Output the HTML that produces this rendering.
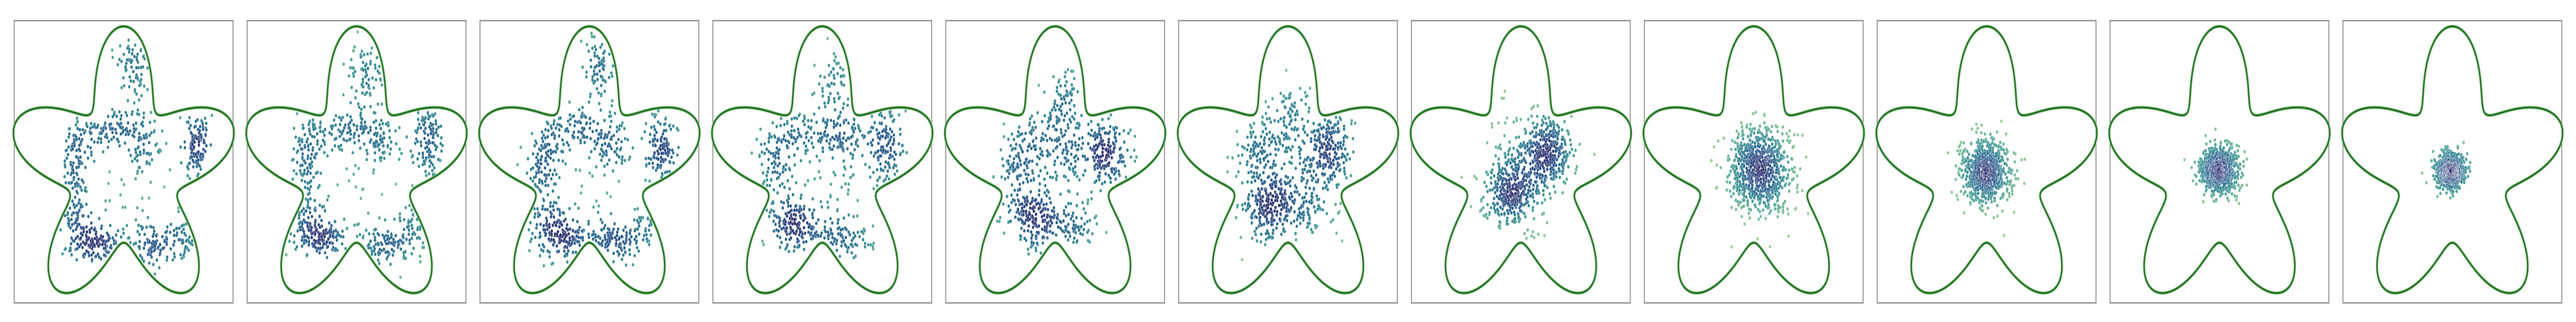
<!DOCTYPE html>
<html><head><meta charset="utf-8">
<style>
html,body{margin:0;padding:0;background:#fff;width:100%;height:100%;overflow:hidden;}
svg{display:block;width:100vw;height:100vh;}
</style></head>
<body>
<svg id="chart" viewBox="0 0 6875 625" preserveAspectRatio="none" xmlns="http://www.w3.org/2000/svg"></svg>
<script>
// ---- data (data units: star centre at 0,0; y up) ----
const panelIds = ['step-1','step-2','step-3','step-4','step-5','step-6','step-7','step-8','step-9','step-10','step-11'];
const clusterX = [
 [0.12,0.85,-0.30,0.38,-0.58,-0.35,-0.10,0.22,-0.55,0.70,0.10,0.15],
 [0.10,0.83,-0.38,0.32,-0.60,-0.35,-0.05,0.25,-0.55,0.65,0.05,0.12],
 [0.13,0.83,-0.28,0.31,-0.56,-0.30,-0.05,0.25,-0.50,0.65,0.05,0.12],
 [0.15,0.74,-0.30,0.25,-0.55,-0.20,0.25,0.00],
 [0.10,0.60,-0.26,0.15,-0.45,-0.10,0.20],
 [0.45,-0.22,0.05,-0.35,0.20,0.00],
 [0.32,-0.10,0.05],
 [0.08],
 [0.00],
 [0.00],
 [-0.02]
];
const clusterY = [
 [0.98,0.30,-0.68,-0.68,0.00,0.35,0.42,0.28,-0.45,-0.55,-0.20,0.65],
 [0.95,0.30,-0.62,-0.68,0.05,0.35,0.42,0.28,-0.40,-0.50,-0.20,0.65],
 [0.98,0.24,-0.61,-0.66,0.06,0.35,0.40,0.25,-0.40,-0.45,-0.20,0.60],
 [0.85,0.25,-0.50,-0.60,0.05,0.35,0.30,-0.10],
 [0.70,0.20,-0.42,-0.50,0.05,0.35,0.10],
 [0.20,-0.33,0.55,0.20,-0.30,0.00],
 [0.20,-0.20,0.02],
 [0.02],
 [0.01],
 [0.01],
 [0.01]
];
const clusterSX = [
 [0.10,0.08,0.18,0.20,0.08,0.15,0.15,0.12,0.10,0.08,0.20,0.08],
 [0.10,0.08,0.18,0.20,0.08,0.15,0.15,0.12,0.10,0.08,0.20,0.08],
 [0.10,0.09,0.18,0.20,0.09,0.15,0.15,0.14,0.10,0.08,0.20,0.08],
 [0.12,0.10,0.15,0.18,0.10,0.20,0.15,0.25],
 [0.10,0.13,0.15,0.18,0.12,0.20,0.20],
 [0.15,0.15,0.15,0.15,0.20,0.30],
 [0.14,0.15,0.25],
 [0.18],
 [0.14],
 [0.11],
 [0.08]
];
const clusterSY = [
 [0.12,0.20,0.08,0.09,0.20,0.10,0.08,0.12,0.12,0.10,0.20,0.15],
 [0.12,0.20,0.08,0.09,0.20,0.10,0.08,0.12,0.12,0.10,0.20,0.15],
 [0.12,0.20,0.09,0.09,0.20,0.10,0.08,0.12,0.12,0.10,0.20,0.15],
 [0.15,0.20,0.12,0.09,0.20,0.12,0.15,0.20],
 [0.15,0.20,0.15,0.10,0.20,0.12,0.15],
 [0.18,0.15,0.15,0.15,0.15,0.30],
 [0.15,0.15,0.28],
 [0.20],
 [0.15],
 [0.11],
 [0.08]
];
const clusterN = [
 [60,120,130,110,90,60,50,70,60,30,25,15],
 [60,120,130,110,90,60,50,70,60,30,25,15],
 [60,120,130,110,90,60,50,70,60,30,25,15],
 [50,130,150,100,90,80,90,40],
 [60,170,170,90,100,100,80],
 [220,220,80,100,100,80],
 [300,300,200],
 [800],
 [800],
 [800],
 [800]
];
const starLobes = [5];
const starInnerOuter = [0.658, 1.342];

// ---- layout / style ----
const colorGamma = [0.6,0.6,0.6,0.6,0.6,0.6,0.8,1,1,1,1];
const PANEL_LEFT0 = 38, PANEL_STEP = 621.5, PANEL_TOP = 40, PANEL_W = 584, PANEL_H = 548;
const CY = 333, SX = 229, SY = 210;
const NS = 'http://www.w3.org/2000/svg';
const svg = document.getElementById('chart');

function xScale(k, x){ return PANEL_LEFT0 + k*PANEL_STEP + PANEL_W/2 + x*SX; }
function yScale(y){ return CY - y*SY; }
function starR(th){
  const a = (starInnerOuter[0]+starInnerOuter[1])/2, b = (starInnerOuter[1]-starInnerOuter[0])/2;
  return a + b*Math.cos(starLobes[0]*(th - Math.PI/2));
}
function rng(seed){ return function(){ seed|=0; seed=seed+0x6D2B79F5|0; let t=Math.imul(seed^seed>>>15,1|seed); t=t+Math.imul(t^t>>>7,61|t)^t; return ((t^t>>>14)>>>0)/4294967296; }; }
const stops = [[0,[160,208,150]],[0.3,[80,166,150]],[0.55,[42,128,142]],[0.8,[36,86,138]],[1,[43,45,108]]];
function cmap(t){
  t=Math.max(0,Math.min(1,t));
  for(let i=1;i<stops.length;i++){
    if(t<=stops[i][0]){
      const a=stops[i-1],b=stops[i],f=(t-a[0])/(b[0]-a[0]);
      const c=a[1].map((v,j)=>Math.round(v+(b[1][j]-v)*f));
      return 'rgb('+c.join(',')+')';
    }
  }
  return 'rgb(43,45,108)';
}

for(let k=0;k<panelIds.length;k++){
  const g = document.createElementNS(NS,'g');
  
  
  svg.appendChild(g);

  const rect = document.createElementNS(NS,'rect');
  rect.setAttribute('x', PANEL_LEFT0 + k*PANEL_STEP);
  rect.setAttribute('y', PANEL_TOP);
  rect.setAttribute('width', PANEL_W);
  rect.setAttribute('height', PANEL_H);
  rect.setAttribute('fill','#fff');
  rect.setAttribute('stroke','#888');
  rect.setAttribute('stroke-width','2.5');
  
  
  g.appendChild(rect);

  let d='';
  for(let i=0;i<=720;i++){
    const th = i/720*2*Math.PI, r = starR(th);
    d += (i?'L':'M') + xScale(k, r*Math.cos(th)).toFixed(1) + ',' + yScale(r*Math.sin(th)).toFixed(1);
  }
  const p1 = document.createElementNS(NS,'path');
  p1.setAttribute('d', d+'Z');
  p1.setAttribute('fill','none');
  p1.setAttribute('stroke','#8fc48f');
  p1.setAttribute('stroke-width','6');
  
  
  g.appendChild(p1);
  const p2 = document.createElementNS(NS,'path');
  p2.setAttribute('d', d+'Z');
  p2.setAttribute('fill','none');
  p2.setAttribute('stroke','#1f6f1f');
  p2.setAttribute('stroke-width','3.5');
  
  
  g.appendChild(p2);

  const rand = rng(1000+k*77);
  const pts = [];
  for(let c=0;c<clusterN[k].length;c++){
    let made=0, tries=0;
    while(made<clusterN[k][c] && tries<clusterN[k][c]*20){
      tries++;
      const u1=Math.max(rand(),1e-9), u2=rand(), u3=Math.max(rand(),1e-9), u4=rand();
      const gx=Math.sqrt(-2*Math.log(u1))*Math.cos(2*Math.PI*u2);
      const gy=Math.sqrt(-2*Math.log(u3))*Math.cos(2*Math.PI*u4);
      const x=clusterX[k][c]+gx*clusterSX[k][c], y=clusterY[k][c]+gy*clusterSY[k][c];
      const rr=Math.hypot(x,y), th=Math.atan2(y,x);
      if(rr < starR(th)-0.05){ pts.push([x,y,0]); made++; }
    }
  }
  const h2 = 2*0.12*0.12;
  let dmax=0;
  for(let i=0;i<pts.length;i++){
    let s=0;
    for(let j=0;j<pts.length;j++){
      const dx=pts[i][0]-pts[j][0], dy=pts[i][1]-pts[j][1];
      const q=(dx*dx+dy*dy)/h2;
      if(q<9) s+=Math.exp(-q);
    }
    pts[i][2]=s; if(s>dmax) dmax=s;
  }
  pts.sort((a,b)=>a[2]-b[2]);
  const pg = document.createElementNS(NS,'g');
  
  
  g.appendChild(pg);
  for(const p of pts){
    const c = document.createElementNS(NS,'circle');
    c.setAttribute('cx', xScale(k,p[0]).toFixed(1));
    c.setAttribute('cy', yScale(p[1]).toFixed(1));
    c.setAttribute('r','3.5');
    c.setAttribute('fill', cmap(Math.pow(p[2]/dmax,colorGamma[k])));
    c.setAttribute('stroke','#fff');
    c.setAttribute('stroke-width','0.5');
    
    
    pg.appendChild(c);
  }
}
</script>
</body></html>
